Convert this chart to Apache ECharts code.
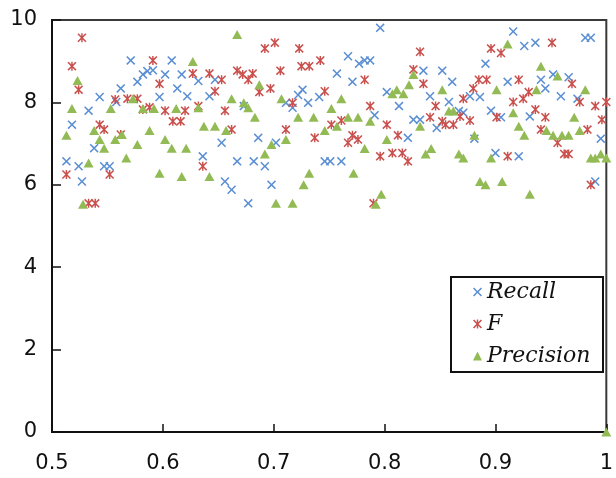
<!DOCTYPE html>
<html>
<head>
<meta charset="utf-8">
<script src="https://cdn.jsdelivr.net/npm/echarts@6/dist/echarts.min.js"></script>
<style>html,body{margin:0;padding:0;background:#fff}#c{width:616px;height:478px}</style>
</head>
<body>
<div id="c"></div>
<script>
var seriesNames = ['Recall', 'F', 'Precision'];
var xTickLabels = ['0.5', '0.6', '0.7', '0.8', '0.9', '1'];
var yTickLabels = ['0', '2', '4', '6', '8', '10'];

var recallData = [
  [0.571, 9.02], [0.608, 9.02], [0.591, 8.78], [0.586, 8.76], [0.582, 8.68], [0.577, 8.50], [0.602, 8.68], [0.617, 8.68],
  [0.562, 8.34], [0.613, 8.34], [0.543, 8.13], [0.597, 8.13], [0.558, 8.01], [0.533, 7.80], [0.518, 7.46], [0.538, 6.89],
  [0.513, 6.57], [0.524, 6.45], [0.547, 6.45], [0.552, 6.45], [0.527, 6.08],
  [0.632, 8.52], [0.647, 8.55], [0.622, 8.15], [0.642, 8.15], [0.673, 7.91], [0.726, 8.31], [0.722, 8.18], [0.731, 7.99],
  [0.711, 7.99], [0.717, 7.87], [0.741, 8.13], [0.653, 7.02], [0.686, 7.14], [0.702, 7.02], [0.636, 6.69], [0.667, 6.57],
  [0.682, 6.57], [0.692, 6.45], [0.746, 6.57], [0.656, 6.08], [0.662, 5.88], [0.698, 6.00], [0.677, 5.55],
  [0.796, 9.81], [0.767, 9.12], [0.777, 8.94], [0.782, 9.02], [0.787, 9.02], [0.757, 8.70], [0.771, 8.50], [0.835, 8.77],
  [0.852, 8.77], [0.861, 8.50], [0.802, 8.25], [0.813, 7.91], [0.841, 8.15], [0.858, 8.01], [0.867, 7.79], [0.791, 7.69],
  [0.826, 7.58], [0.832, 7.58], [0.847, 7.38], [0.821, 7.14], [0.751, 6.57], [0.761, 6.57],
  [0.916, 9.72], [0.926, 9.37], [0.936, 9.45], [0.981, 9.57], [0.986, 9.57], [0.891, 8.94], [0.911, 8.50], [0.941, 8.55],
  [0.952, 8.68], [0.966, 8.61], [0.945, 8.34], [0.877, 8.15], [0.886, 8.13], [0.959, 8.15], [0.974, 8.09], [0.871, 7.75],
  [0.896, 7.80], [0.905, 7.64], [0.931, 7.66], [0.881, 7.12], [0.995, 7.12], [0.900, 6.77], [0.921, 6.69], [0.990, 6.08]
];

var fData = [
  [0.527, 9.57], [0.518, 8.88], [0.524, 8.31], [0.591, 9.02], [0.597, 8.45], [0.557, 8.07], [0.568, 8.09], [0.577, 8.09],
  [0.582, 7.83], [0.588, 7.88], [0.602, 7.80], [0.609, 7.54], [0.616, 7.54], [0.620, 7.80], [0.543, 7.46], [0.547, 7.34],
  [0.562, 7.22], [0.513, 6.25], [0.552, 6.25], [0.533, 5.55], [0.539, 5.55],
  [0.701, 9.45], [0.692, 9.31], [0.723, 9.31], [0.742, 9.02], [0.725, 8.88], [0.732, 8.88], [0.627, 8.70], [0.642, 8.70],
  [0.653, 8.55], [0.667, 8.77], [0.672, 8.68], [0.681, 8.70], [0.677, 8.55], [0.706, 8.77], [0.647, 8.27], [0.687, 8.25],
  [0.697, 8.34], [0.746, 8.27], [0.717, 7.99], [0.632, 7.91], [0.656, 7.80], [0.662, 7.34], [0.711, 7.34], [0.737, 7.14],
  [0.636, 6.45],
  [0.832, 9.23], [0.782, 8.55], [0.826, 8.80], [0.835, 8.45], [0.871, 8.09], [0.787, 7.91], [0.846, 7.91], [0.841, 7.64],
  [0.761, 7.56], [0.752, 7.46], [0.852, 7.54], [0.855, 7.46], [0.862, 7.46], [0.868, 7.66], [0.802, 7.46], [0.812, 7.20],
  [0.771, 7.20], [0.767, 7.02], [0.776, 7.10], [0.796, 6.69], [0.807, 6.77], [0.816, 6.77], [0.821, 6.57], [0.790, 5.55],
  [0.896, 9.31], [0.905, 9.20], [0.951, 9.45], [0.885, 8.55], [0.892, 8.55], [0.921, 8.55], [0.880, 8.34], [0.930, 8.25],
  [0.925, 8.09], [0.916, 8.01], [0.969, 8.45], [0.976, 8.01], [0.990, 7.91], [1.000, 8.01], [0.996, 7.58], [0.936, 7.83],
  [0.945, 7.64], [0.901, 7.64], [0.877, 7.56], [0.941, 7.34], [0.983, 7.34], [0.956, 7.02], [0.962, 6.75], [0.966, 6.75],
  [0.911, 6.69], [0.986, 6.00]
];

var precisionData = [
  [0.523, 8.53], [0.518, 7.85], [0.553, 7.85], [0.573, 8.09], [0.582, 7.85], [0.592, 7.85], [0.612, 7.85], [0.513, 7.20],
  [0.538, 7.32], [0.543, 7.10], [0.547, 6.89], [0.557, 7.10], [0.563, 7.22], [0.577, 6.98], [0.588, 7.32], [0.602, 7.10],
  [0.608, 6.89], [0.621, 6.89], [0.567, 6.65], [0.533, 6.53], [0.597, 6.28], [0.617, 6.20], [0.528, 5.53],
  [0.667, 9.65], [0.627, 8.99], [0.687, 8.43], [0.662, 8.09], [0.632, 7.87], [0.673, 7.99], [0.677, 7.87], [0.683, 7.64],
  [0.707, 8.09], [0.722, 7.64], [0.736, 7.64], [0.746, 7.32], [0.637, 7.42], [0.647, 7.42], [0.657, 7.32], [0.711, 7.10],
  [0.698, 6.98], [0.692, 6.75], [0.642, 6.20], [0.732, 6.28], [0.727, 6.00], [0.702, 5.55], [0.717, 5.55],
  [0.826, 8.68], [0.822, 8.43], [0.811, 8.31], [0.807, 8.21], [0.817, 8.21], [0.852, 8.31], [0.761, 8.09], [0.752, 7.85],
  [0.767, 7.64], [0.776, 7.64], [0.787, 7.54], [0.858, 7.79], [0.862, 7.79], [0.757, 7.42], [0.832, 7.42], [0.782, 6.88],
  [0.802, 7.10], [0.837, 6.75], [0.842, 6.88], [0.867, 6.75], [0.871, 6.65], [0.772, 6.28], [0.797, 5.77], [0.792, 5.53],
  [0.911, 9.42], [0.941, 8.88], [0.956, 8.64], [0.901, 8.31], [0.937, 8.31], [0.981, 8.31], [0.916, 7.75], [0.971, 7.64],
  [0.881, 7.20], [0.921, 7.42], [0.926, 7.20], [0.946, 7.32], [0.952, 7.20], [0.960, 7.20], [0.966, 7.20], [0.976, 7.32],
  [0.896, 6.65], [0.986, 6.65], [0.990, 6.65], [0.995, 6.75], [1.000, 6.65], [0.886, 6.08], [0.891, 6.00], [0.906, 6.08],
  [0.931, 5.77], [1.000, 0]
];

var X_PATH = 'path://M0,1.2L1.2,0L5,3.8L8.8,0L10,1.2L6.2,5L10,8.8L8.8,10L5,6.2L1.2,10L0,8.8L3.8,5Z';
var AST_PATH = 'path://M0,1.2L1.2,0L5,3.8L8.8,0L10,1.2L6.2,5L10,8.8L8.8,10L5,6.2L1.2,10L0,8.8L3.8,5Z M4.2,0L5.8,0L5.8,10L4.2,10Z';

var labelFont = 'DejaVu Sans';
var chart = echarts.init(document.getElementById('c'), null, {renderer: 'canvas'});
chart.setOption({
  animation: false,
  backgroundColor: '#fff',
  grid: {left: 52, right: 5, top: 20, bottom: 46, show: true, borderColor: '#3a3a3a', borderWidth: 2, containLabel: false},
  graphic: [{
    type: 'rect', left: 450, top: 276, z: 3,
    shape: {width: 152, height: 95},
    style: {fill: '#fff', stroke: '#111', lineWidth: 2}
  }],
  xAxis: {
    type: 'value', min: 0.5, max: 1, interval: 0.1,
    axisLine: {show: true, onZero: false, lineStyle: {color: '#111', width: 2}},
    axisTick: {show: true, inside: true, length: 8, lineStyle: {color: '#111', width: 1.5}},
    splitLine: {show: false},
    axisLabel: {
      margin: 21, color: '#111', fontFamily: labelFont, fontSize: 21,
      formatter: function (v) { var i = Math.round((v - 0.5) / 0.1); return xTickLabels[i] || ''; }
    }
  },
  yAxis: {
    type: 'value', min: 0, max: 10, interval: 2,
    axisLine: {show: true, lineStyle: {color: '#111', width: 2}},
    axisTick: {show: true, inside: true, length: 9, lineStyle: {color: '#111', width: 1.5}},
    splitLine: {show: false},
    axisLabel: {
      margin: 15, color: '#111', fontFamily: labelFont, fontSize: 21,
      formatter: function (v) { var i = Math.round(v / 2); return yTickLabels[i] || ''; }
    }
  },
  legend: {
    orient: 'vertical', left: 451, top: 281, z: 5,
    padding: [0, 0, 0, 22],
    itemGap: 10, itemWidth: 9, itemHeight: 9,
    textStyle: {fontFamily: 'DejaVu Serif', fontStyle: 'italic', fontSize: 22, color: '#111', lineHeight: 21},
    data: [
      {name: seriesNames[0], icon: X_PATH},
      {name: seriesNames[1], icon: AST_PATH},
      {name: seriesNames[2], icon: 'triangle'}
    ]
  },
  series: [
    {name: seriesNames[0], type: 'scatter', data: recallData, symbol: X_PATH, symbolSize: 9, clip: false,
     itemStyle: {color: '#5b8fd3', opacity: 1}},
    {name: seriesNames[1], type: 'scatter', data: fData, symbol: AST_PATH, symbolSize: 9, clip: false,
     itemStyle: {color: '#c9504d', opacity: 1}},
    {name: seriesNames[2], type: 'scatter', data: precisionData, symbol: 'triangle', symbolSize: [10, 9], clip: false,
     itemStyle: {color: '#93bb55', opacity: 1}}
  ]
});
</script>
</body>
</html>
